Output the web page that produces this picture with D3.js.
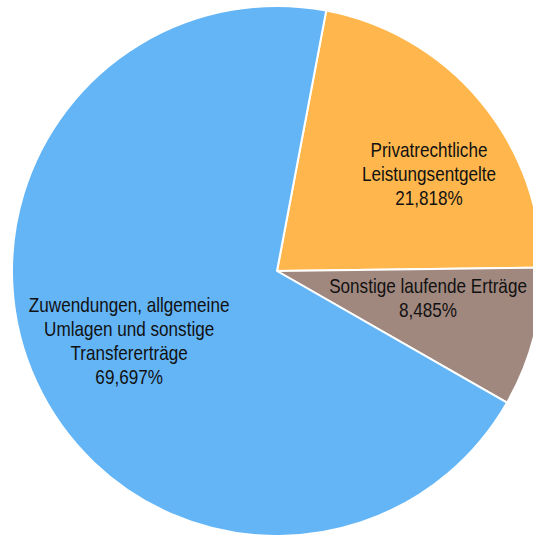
<!DOCTYPE html>
<html lang="de">
<head>
<meta charset="UTF-8"/>
<title>Erträge</title>
<script src="https://d3js.org/d3.v7.min.js"></script>
<style>
  body { margin: 0; background: #fff; }
  text { font-family: "Liberation Sans", Arial, sans-serif; font-size: 21px; fill: #111; }
</style>
</head>
<body>
<svg id="chart" width="533" height="535"></svg>
<script>
// data
var categories = ["Privatrechtliche Leistungsentgelte", "Sonstige laufende Erträge", "Zuwendungen, allgemeine Umlagen und sonstige Transfererträge"];
var labelLines = [
  ["Privatrechtliche", "Leistungsentgelte"],
  ["Sonstige laufende Erträge"],
  ["Zuwendungen, allgemeine", "Umlagen und sonstige", "Transfererträge"]
];
var values = [21.818, 8.485, 69.697];
var colors = ["#FFB74D", "#A1887F", "#64B5F6"];

var cx = 277, cy = 271, radius = 265;
var lineH = 23.8;
var narrow = 0.815; // the original uses a condensed face, squeeze Liberation Sans

// label placement: fraction across the slice angle, and radius factor
var labelT = [0.594, 0.357, 0.498];
var labelR = [0.681, 0.579, 0.617];

var svg = d3.select("#chart");
var g = svg.append("g").attr("transform", "translate(" + cx + "," + cy + ")");

var start = 10.7 * Math.PI / 180;
var pie = d3.pie()
  .sort(null)
  .startAngle(start)
  .endAngle(start + 2 * Math.PI)
  .value(function(d) { return d; });

var arcs = pie(values);

var arc = d3.arc().innerRadius(0).outerRadius(radius);

g.selectAll("path.slice")
  .data(arcs)
  .enter()
  .append("path")
  .attr("class", "slice")
  .attr("d", arc)
  .attr("fill", function(d, i) { return colors[i]; })
  .attr("stroke", "#fff")
  .attr("stroke-width", 2)
  .attr("stroke-linejoin", "round");

var labels = g.selectAll("text.lbl")
  .data(arcs)
  .enter()
  .append("text")
  .attr("class", "lbl")
  .attr("text-anchor", "middle")
  .attr("transform", function(d, i) {
    var a = d.startAngle + (d.endAngle - d.startAngle) * labelT[i];
    var r = radius * labelR[i];
    return "translate(" + (Math.sin(a) * r) + "," + (-Math.cos(a) * r) + ") scale(" + narrow + ",1)";
  });

labels.each(function(d, i) {
  var lines = labelLines[i].concat([d3.format(".3f")(values[i]).replace(".", ",") + "%"]);
  var t = d3.select(this);
  var y0 = -(lines.length - 1) * lineH / 2;
  lines.forEach(function(s, k) {
    t.append("tspan")
      .attr("x", 0)
      .attr("y", y0 + k * lineH)
      .attr("dy", "0.35em")
      .text(s);
  });
});
</script>
</body>
</html>
